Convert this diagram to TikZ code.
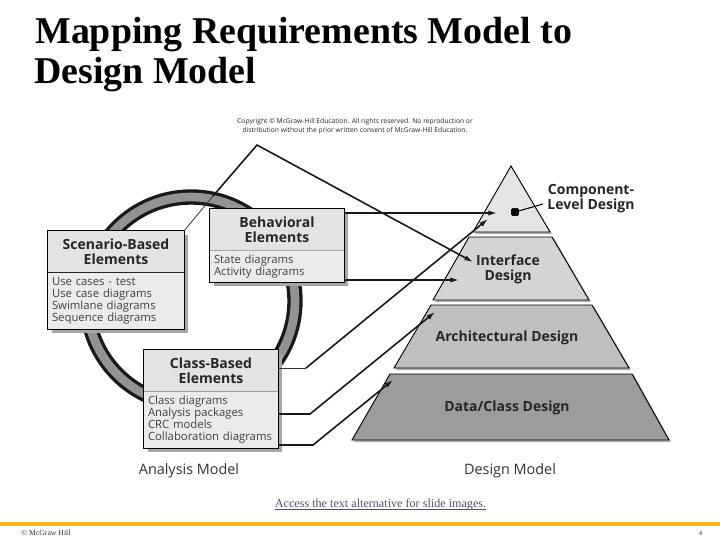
\documentclass[tikz,border=0pt]{standalone}
\usepackage{fontspec}
\setmainfont{Liberation Serif}
\setsansfont{Open Sans}
\usepackage{tikz}
\usetikzlibrary{arrows.meta, positioning}
\tikzset{>={Latex[length=6.5pt,width=4pt]}}
\definecolor{barcol}{HTML}{F9B81A}
\definecolor{linkcol}{HTML}{4F4E70}
\tikzset{
  boxhead/.style={fill=gray!22, minimum width=#1, inner sep=0pt, align=center, font=\sffamily\bfseries\fontsize{10.5}{11.3}\selectfont, text=black!85, execute at begin node=\rule{0pt}{10.6pt}},
  boxlist/.style={fill=gray!16, text width=#1, inner xsep=3pt, inner ysep=0pt, align=left, font=\sffamily\fontsize{8.5}{9}\selectfont, text=black!75},
  boxedge/.style={draw=black, line width=0.75pt},
  tier/.style={draw=black, line width=0.7pt},
  tiertext/.style={font=\sffamily\bfseries\fontsize{10.5}{11.4}\selectfont, text=black!85, align=center, inner sep=0pt},
  maplink/.style={line width=1.2pt, black!90},
  thinlink/.style={line width=0.6pt, black!80},
  modeltext/.style={font=\sffamily\fontsize{10.8}{12}\selectfont, text=black!80, inner sep=0pt}
}
\begin{document}
\begin{tikzpicture}[x=0.75pt, y=-0.75pt]
\useasboundingbox (0,0) rectangle (720,540);

% Title
\node[anchor=base west, inner sep=0pt, font=\bfseries\fontsize{28.4}{28.4}\selectfont] (titleA) at (35,43) {Mapping Requirements Model to};
\node[anchor=base west, inner sep=0pt, font=\bfseries\fontsize{28.4}{28.4}\selectfont] (titleB) at (34,83) {Design Model};

% Copyright note
\node[align=center, inner sep=0pt, font=\sffamily\fontsize{5.05}{6.75}\selectfont, text=black!85] (note) at (355,126.5)
{Copyright © McGraw-Hill Education. All rights reserved. No reproduction or\\distribution without the prior written consent of McGraw-Hill Education.};

% Ring
\draw[line width=11.5pt, black!90] (191,301) circle (104);
\draw[line width=6.5pt, gray!85] (191,301) circle (104);

% Shadows of the boxes
\foreach \xa/\ya/\xb/\yb in {48/231/184/329, 210/209/344/282, 144/350/278/448} {
    \fill[gray!70] (\xa+4,\ya+4) rectangle (\xb+4,\yb+4);
}

% Analysis boxes
\node[boxhead=102pt, minimum height=30.75pt] (scenHead) at (116,251.5) {Scenario-Based\\Elements};
\node[boxlist=96pt, minimum height=42.75pt, below=0pt of scenHead] (scenList) {Use cases - test\\Use case diagrams\\Swimlane diagrams\\Sequence diagrams};
\draw[boxedge] (scenHead.north west) rectangle (scenList.south east);
\draw[line width=0.6pt, black!85] (scenHead.south west) -- (scenHead.south east);

\node[boxhead=100.5pt, minimum height=30.75pt] (behHead) at (277,229.5) {Behavioral\\Elements};
\node[boxlist=94.5pt, minimum height=24pt, below=0pt of behHead] (behList) {State diagrams\\Activity diagrams};
\draw[boxedge] (behHead.north west) rectangle (behList.south east);
\draw[line width=0.5pt, gray!70] (behHead.south west) -- (behHead.south east);

\node[boxhead=100.5pt, minimum height=30.75pt] (classHead) at (211,370.5) {Class-Based\\Elements};
\node[boxlist=94.5pt, minimum height=42.75pt, below=0pt of classHead] (classList) {Class diagrams\\Analysis packages\\CRC models\\Collaboration diagrams};
\draw[boxedge] (classHead.north west) rectangle (classList.south east);
\draw[line width=0.5pt, gray!80] (classHead.south west) -- (classHead.south east);

% Pyramid
\fill[gray!60] (511,166) -- (552,234) -- (475,234) -- cycle;
\fill[gray!60] (471,238) -- (554,238) -- (591,302) -- (435,302) -- cycle;
\fill[gray!60] (433,306) -- (594,306) -- (631,370) -- (396,370) -- cycle;
\fill[gray!60] (392,375) -- (634,375) -- (671,442) -- (354,442) -- cycle;
\draw[tier, fill=black!10] (511,166) -- (550,232) -- (473,232) -- cycle;
\draw[tier, fill=black!17] (469,237) -- (552,237) -- (589,300) -- (433,300) -- cycle;
\draw[tier, fill=black!25] (431,305) -- (592,305) -- (629,368) -- (394,368) -- cycle;
\draw[tier, fill=black!39] (390,374) -- (632,374) -- (669,440) -- (352,440) -- cycle;

\node[tiertext] (iface) at (508,269) {Interface\\Design};
\node[tiertext] (arch) at (507,337.5) {Architectural Design};
\node[tiertext] (data) at (507,407.5) {Data/Class Design};
\node[tiertext] (comp) at (591,199) {Component-\\Level Design};

\node[draw=black, fill=black, rounded corners=1pt, minimum size=5.5pt, inner sep=0pt] (dot) at (515,212) {};
\coordinate (compLine) at (543,204);
\draw[line width=0.8pt] (compLine) -- (dot);

% Model captions
\node[modeltext] (anaModel) at (189,470.5) {Analysis Model};
\node[modeltext] (desModel) at (510,470.5) {Design Model};

% Mapping lines
\coordinate (scenCorner) at (184,231);
\coordinate (scenMid) at (213,196);
\coordinate (scenBend) at (257,145);
\coordinate (ifaceIn) at (473,262);
\coordinate (behA) at (344,213);
\coordinate (compInA) at (497,213);
\coordinate (behB) at (344,280);
\coordinate (ifaceInB) at (459,280);
\coordinate (classA) at (278,368);
\coordinate (classABend) at (306,368);
\coordinate (compInB) at (488,219);
\coordinate (classB) at (278,414);
\coordinate (classBBend) at (310,414);
\coordinate (archIn) at (435,312);
\coordinate (classC) at (278,445);
\coordinate (classCBend) at (313,445);
\coordinate (dataIn) at (393,380);

\draw[thinlink] (scenCorner) -- (scenMid);
\draw[->, maplink] (scenMid) -- (scenBend) -- (ifaceIn);
\draw[->, maplink] (behA) -- (compInA);
\draw[->, maplink] (behB) -- (ifaceInB);
\draw[thinlink] (classA) -- (classABend);
\draw[->, maplink] (classABend) -- (compInB);
\draw[->, maplink] (classB) -- (classBBend) -- (archIn);
\draw[->, maplink] (classC) -- (classCBend) -- (dataIn);

% Footer
\node[anchor=base, inner sep=0pt, font=\fontsize{9.1}{10}\selectfont, text=linkcol] (access) at (380.5,507) {Access the text alternative for slide images.};
\draw[linkcol, line width=0.7pt] ([yshift=-1.9pt]access.base west) -- ([yshift=-1.9pt]access.base east);
\fill[barcol] (0,521.5) rectangle (720,526);
\node[anchor=base west, inner sep=0pt, font=\fontsize{5.8}{6}\selectfont, text=black!80] (mcg) at (21,535) {© McGraw Hill};
\node[anchor=base, inner sep=0pt, font=\fontsize{5}{6}\selectfont, text=black!80] (pageno) at (700.5,535) {4};
\end{tikzpicture}
\end{document}
